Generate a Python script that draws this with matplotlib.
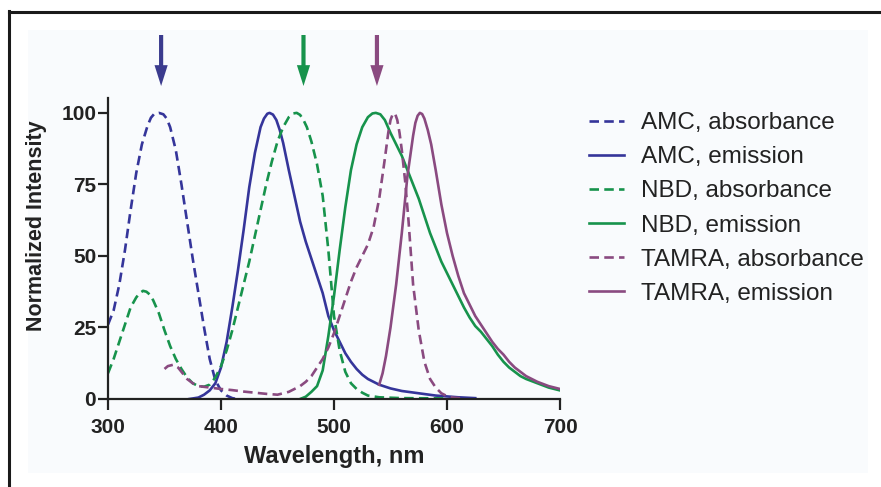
import matplotlib
matplotlib.use('Agg')
import matplotlib.pyplot as plt
from matplotlib.patches import Rectangle, FancyArrowPatch
from matplotlib.lines import Line2D
import matplotlib.transforms as mtrans

# ---------------- data ----------------
amc_abs_x = [300, 305, 310, 315, 320, 325, 330, 335, 338, 341, 345, 349, 352, 355, 360,
             365, 370, 375, 380, 385, 390, 395, 400, 405, 410, 414]
amc_abs_y = [26, 31, 40, 52, 66, 79, 89, 95.5, 98.3, 99.7, 100, 99.5, 98, 95, 87,
             75, 62, 49, 37, 25, 14, 6.5, 3, 1.2, 0.3, 0]

amc_em_x = [372, 380, 385, 390, 395, 400, 405, 410, 415, 420, 425, 430, 435, 438, 441,
            443, 446, 449, 452, 455, 460, 465, 470, 475, 480, 485, 490, 495, 500, 505,
            510, 515, 520, 525, 530, 540, 550, 560, 575, 590, 610, 625]
amc_em_y = [0, 0.5, 1.5, 3, 5.5, 11, 20, 32, 45, 59, 74, 86, 95, 98, 99.7,
            100, 99.4, 97.5, 94, 89.5, 80, 71, 62, 55, 49, 43, 37, 29, 24, 20,
            16, 13, 10.5, 8.5, 7, 5, 3.7, 2.8, 2, 1.2, 0.6, 0.3]

nbd_abs_x = [300, 305, 310, 315, 320, 325, 328, 331, 334, 337, 340, 345, 350, 355, 360,
             365, 370, 375, 380, 385, 390, 395, 400, 405, 410, 415, 420, 425, 430, 435,
             440, 445, 450, 455, 460, 464, 467, 470, 473, 476, 480, 485, 490, 495, 500,
             505, 510, 515, 520, 525, 530, 540, 560, 600]
nbd_abs_y = [9, 14, 20, 26, 32, 35.5, 37, 37.8, 37.5, 36.5, 34.5, 30, 24, 18.5, 14,
             10.5, 7.5, 5.5, 4.5, 4.3, 5, 7.5, 11.5, 17, 24, 32, 40, 48, 57, 66,
             75, 83, 90, 95, 98.5, 99.8, 100, 99.3, 97.5, 95, 90, 82, 71, 52, 29,
             17, 9.5, 5.5, 3.5, 2.2, 1.2, 0.6, 0.3, 0.2]

nbd_em_x = [470, 475, 480, 485, 490, 495, 500, 505, 510, 515, 520, 525, 530, 534, 537,
            541, 545, 550, 555, 560, 565, 570, 575, 580, 585, 590, 595, 600, 605, 610,
            615, 620, 625, 630, 635, 640, 645, 650, 655, 660, 665, 670, 680, 690, 700]
nbd_em_y = [0, 0.8, 2.5, 4.5, 10, 22, 36, 52, 67, 80, 89, 95, 98.5, 99.8, 100,
            99.5, 97.5, 93, 89, 85, 80, 75, 70, 64, 58, 53, 48, 44, 40, 36,
            32, 28.5, 25.5, 23.5, 21, 18.5, 15.5, 13, 11, 9.5, 8, 7, 5.5, 4, 3]

tamra_abs_x = [350, 353, 358, 362, 366, 370, 375, 380, 390, 400, 410, 420, 430, 440, 450,
               460, 465, 470, 475, 480, 485, 490, 495, 500, 505, 510, 515, 520, 525, 530,
               535, 540, 545, 548, 550, 552, 554, 556, 558, 560, 563, 566, 570, 575, 580,
               585, 590, 595, 600, 605, 615]
tamra_abs_y = [10.5, 11.5, 12, 11, 9, 7, 5.5, 4.5, 4, 3.5, 3.1, 2.6, 2.2, 1.8, 1.5,
               2.5, 3.5, 4.5, 6, 8, 11, 14, 18, 23, 29, 35, 41, 46, 50, 54,
               60, 70, 84, 93, 97.5, 99.6, 99.8, 97.5, 93, 87, 76, 62, 40, 24, 13,
               7, 4, 2, 1, 0.5, 0.2]

tamra_em_x = [540, 543, 546, 550, 555, 560, 565, 570, 572, 574, 576, 578, 580, 583, 586,
              590, 595, 600, 605, 610, 615, 620, 625, 630, 635, 640, 645, 650, 655, 660,
              665, 670, 675, 680, 690, 700]
tamra_em_y = [5, 9, 15, 25, 40, 58, 78, 92, 96.5, 99, 100, 99.6, 98, 94, 89,
              80, 68, 58, 50, 43, 37, 33, 29, 26, 23, 20, 17.5, 15.5, 13, 11,
              9.5, 8, 7, 6, 4.5, 3.5]

series_labels = ["AMC, absorbance", "AMC, emission", "NBD, absorbance",
                 "NBD, emission", "TAMRA, absorbance", "TAMRA, emission"]
excitation_nm = [347, 473, 538]

x_ticks = [300, 400, 500, 600, 700]
y_ticks = [0, 25, 50, 75, 100]

BLUE = '#35359a'
GREEN = '#17934c'
PURPLE = '#8a4a80'
ARROW_COLORS = ['#3b3b8e', '#17934c', '#8a4a80']

# ---------------- figure ----------------
W, H = 881, 487
fig = plt.figure(figsize=(W / 100, H / 100), dpi=100)
fig.patch.set_facecolor('white')


def fx(px):
    return px / W


def fy(py):
    return 1 - py / H


fig.add_artist(Rectangle((fx(28), fy(473)), fx(868) - fx(28), fy(30) - fy(473),
                         transform=fig.transFigure, facecolor='#f9fbfd',
                         edgecolor='none', zorder=-5))
fig.add_artist(Line2D([fx(9), fx(9)], [fy(11), 0], transform=fig.transFigure,
                      color='#1a1a1a', lw=2.2, solid_capstyle='projecting'))
fig.add_artist(Line2D([fx(9), 1], [fy(12), fy(12)], transform=fig.transFigure,
                      color='#1a1a1a', lw=2.2))

ax = fig.add_axes([fx(108), fy(399), fx(560) - fx(108), fy(98) - fy(399)])
ax.patch.set_alpha(0)

dash = (0, (3.6, 2.0))
lw = 1.9
ax.plot(amc_abs_x, amc_abs_y, color=BLUE, lw=lw, ls=dash, label=series_labels[0])
ax.plot(amc_em_x, amc_em_y, color=BLUE, lw=lw, label=series_labels[1])
ax.plot(nbd_abs_x, nbd_abs_y, color=GREEN, lw=lw, ls=dash, label=series_labels[2])
ax.plot(nbd_em_x, nbd_em_y, color=GREEN, lw=lw, label=series_labels[3])
ax.plot(tamra_abs_x, tamra_abs_y, color=PURPLE, lw=lw, ls=dash, label=series_labels[4])
ax.plot(tamra_em_x, tamra_em_y, color=PURPLE, lw=lw, label=series_labels[5])

ax.set_xlim(300, 700)
ax.set_ylim(0, 105.2)
for s in ['top', 'right']:
    ax.spines[s].set_visible(False)
for s in ['left', 'bottom']:
    ax.spines[s].set_linewidth(1.6)
    ax.spines[s].set_color('#222222')
ax.set_xticks(x_ticks)
ax.set_yticks(y_ticks)
ax.tick_params(direction='out', length=7, width=1.6, color='#222222',
               labelsize=15, labelcolor='#222222')
ax.tick_params(axis='y', pad=1.5)
ax.tick_params(axis='x', length=8, pad=5.5)
for lab in ax.get_xticklabels() + ax.get_yticklabels():
    lab.set_fontfamily('Liberation Sans')
    lab.set_fontweight('bold')

fig.text(fx(37), fy(226), 'Normalized Intensity', rotation=90, ha='center', va='center',
         fontsize=15.5, fontweight='bold', family='Liberation Sans', color='#222222')
fig.text(fx(334), fy(457), 'Wavelength, nm', ha='center', va='center',
         fontsize=17, fontweight='bold', family='Liberation Sans', color='#222222')

# arrows marking excitation wavelengths
btf = mtrans.blended_transform_factory(ax.transData, fig.transFigure)
for xnm, c in zip(excitation_nm, ARROW_COLORS):
    arr = FancyArrowPatch((xnm, fy(35)), (xnm, fy(86)), transform=btf,
                          arrowstyle='simple,head_length=1.5,head_width=0.95,tail_width=0.3',
                          mutation_scale=10, color=c, shrinkA=0, shrinkB=0, lw=0)
    fig.add_artist(arr)

leg = fig.legend(loc='upper left', bbox_to_anchor=(fx(589), fy(112)),
                 bbox_transform=fig.transFigure, frameon=False,
                 prop={'family': 'Liberation Sans', 'size': 17.5},
                 handlelength=1.45, handletextpad=0.7, labelspacing=0.5,
                 borderpad=0, borderaxespad=0)
for t in leg.get_texts():
    t.set_color('#222222')

fig.savefig('out.png', dpi=100, facecolor='white')
